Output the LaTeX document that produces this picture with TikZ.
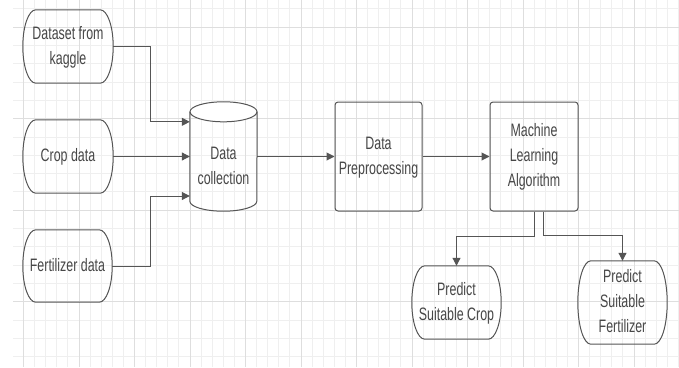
\documentclass[tikz,border=0pt]{standalone}
\usepackage{fontspec}
\setmainfont{Liberation Sans}
\usetikzlibrary{arrows.meta,calc}

\definecolor{ink}{HTML}{474747}
\definecolor{edge}{HTML}{555555}
\definecolor{gridminor}{HTML}{EFEFEF}
\definecolor{gridmajor}{HTML}{DEDEDE}

% condensed, centred multi-line label
\newcommand{\lbl}[1]{\scalebox{0.69}[1]{\begin{tabular}{@{}c@{}}#1\end{tabular}}}

% stadium outline (flat top/bottom, elliptic sides) around a named node
\newcommand{\stadiumof}[1]{%
  \draw[outline] let \p1=(#1.north west), \p2=(#1.south east) in
    (\x1+13pt,\y1) -- (\x2-13pt,\y1)
    arc[start angle=90,end angle=-90,x radius=13pt,y radius={(\y1-\y2)/2}]
    -- (\x1+13pt,\y2)
    arc[start angle=270,end angle=90,x radius=13pt,y radius={(\y1-\y2)/2}] -- cycle;}

\begin{document}
\begin{tikzpicture}[x=1pt,y=1pt,
  outline/.style={draw=edge,line width=1pt},
  txt/.style={inner sep=0pt,text=ink,font=\fontsize{18}{25}\selectfont},
  procbox/.style={txt,draw=edge,line width=1pt,rounded corners=3pt},
  arr/.style={draw=edge,line width=1pt,-{Triangle[length=8pt,width=8pt]}}]

% page and background grid
\useasboundingbox[fill=white] (0,0) rectangle (679,-367);
\foreach \i in {0,...,59} \draw[gridminor,line width=1pt] ({23.5+11.1*\i},0) -- ({23.5+11.1*\i},-367);
\foreach \k in {-3,...,16} \draw[gridminor,line width=1pt] (13,{-301.7+18.3*\k}) -- (679,{-301.7+18.3*\k});
\foreach \j in {0,...,11} \draw[gridmajor,line width=1pt] ({23.5+55.5*\j},0) -- ({23.5+55.5*\j},-367);
\foreach \j in {0,...,3} \draw[gridmajor,line width=1pt] (13,{-301.7+91.5*\j}) -- (679,{-301.7+91.5*\j});

% input sources
\node[txt,minimum width=90,minimum height=73] (ds) at (68,-46.5) {\lbl{Dataset from\\kaggle}};
\node[txt,minimum width=90,minimum height=73] (cd) at (68,-156.5) {\lbl{Crop data}};
\node[txt,minimum width=89,minimum height=72] (fd) at (67.5,-266) {\lbl{Fertilizer data}};
\stadiumof{ds}
\stadiumof{cd}
\stadiumof{fd}

% data store (cylinder body spans the node, top cap above it)
\node[txt,minimum width=67,minimum height=89] (dc) at (223.5,-166.5) {\lbl{Data\\collection}};
\draw[outline,fill=white] ([yshift=10]dc.north) ellipse[x radius=33.5,y radius=10];
\draw[outline] ([yshift=10]dc.north west) -- ([yshift=10]dc.south west)
  arc[start angle=180,end angle=360,x radius=33.5,y radius=10]
  -- ([yshift=10]dc.north east);

% processing steps
\node[procbox,minimum width=87,minimum height=109] (dp) at (378.5,-156.5) {\lbl{Data\\Preprocessing}};
\node[procbox,minimum width=88,minimum height=109] (ml) at (534,-156.5) {\lbl{Machine\\Learning\\Algorithm}};

% outputs
\node[txt,minimum width=89,minimum height=73] (psc) at (456.5,-302.5) {\lbl{Predict\\Suitable Crop}};
\node[txt,minimum width=89,minimum height=83] (psf) at (622.5,-302.5) {\lbl{Predict\\Suitable\\Fertilizer}};
\stadiumof{psc}
\stadiumof{psf}

% connectors
\draw[arr] (ds.east) -- ++(37,0) |- (dc.north west);
\draw[arr] (cd.east) -- (cd.east -| dc.west);
\draw[arr] (fd.east) -- ++(38,0) |- ([yshift=-29.5]dc.west);
\draw[arr] (dp.west -| dc.east) -- (dp.west);
\draw[arr] (dp.east) -- (ml.west);
\draw[arr] (ml.south) -- ++(0,-25) -| (psc.north);
\draw[arr] ([xshift=9]ml.south) -- ++(0,-24) -| (psf.north);
\end{tikzpicture}
\end{document}
